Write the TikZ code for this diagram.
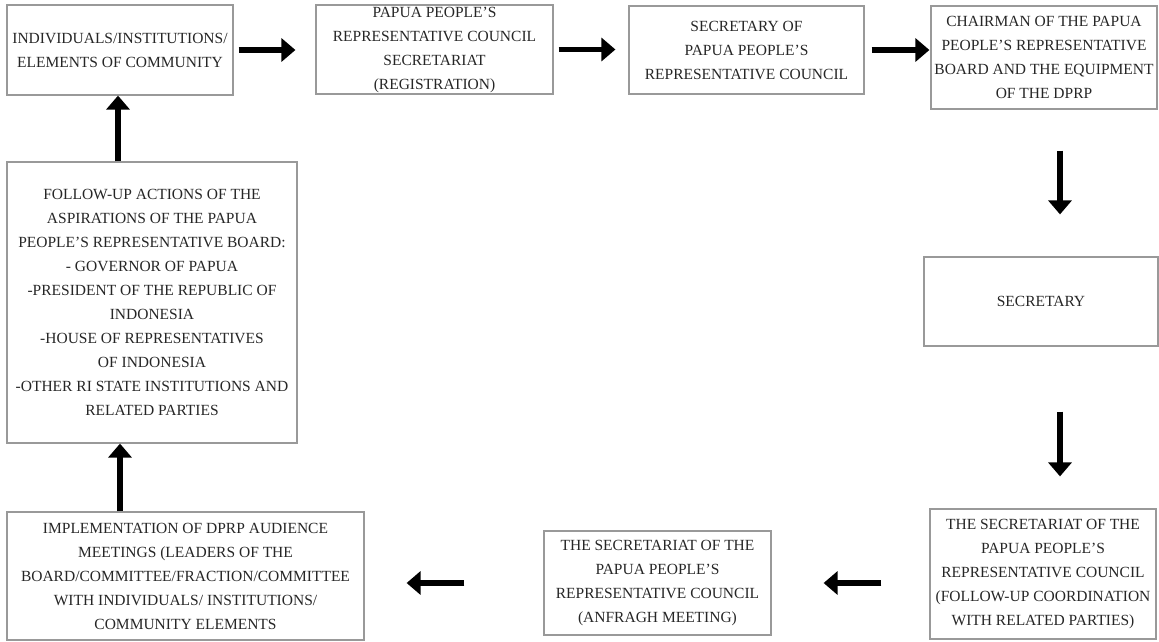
\documentclass[tikz,border=0pt]{standalone}
\usepackage{fontspec}
\setmainfont{Liberation Serif}
\usetikzlibrary{positioning,arrows.meta}
\tikzset{
  stage/.style={
    % The shape:
    rectangle,
    % The size:
    inner sep=0pt,
    % The border:
    draw=black!40,
    line width=1.2pt,
    % Font
    font=\fontsize{15.5}{24}\selectfont,
    align=center,
    text=black!85
  },
  box size/.style 2 args={minimum width=#1pt,minimum height=#2pt}
}

\begin{document}
\begin{tikzpicture}[x=1pt,y=-1pt,
                    tip/.style={-{Triangle[width=23pt,length=14pt]},line width=5.5pt,black}]
  \useasboundingbox (0,0) rectangle (1159,642);

  \node (indiv)    [stage,box size={226}{90}]  at (120,50)     {INDIVIDUALS/INSTITUTIONS/\\ELEMENTS OF COMMUNITY};
  \node (regist)   [stage,box size={237}{89}]  at (434.5,49.5) {PAPUA PEOPLE'S\\REPRESENTATIVE COUNCIL\\SECRETARIAT\\(REGISTRATION)};
  \node (secof)    [stage,box size={235}{88}]  at (746.5,50)   {SECRETARY OF\\PAPUA PEOPLE'S\\REPRESENTATIVE COUNCIL};
  \node (chair)    [stage,box size={226}{103}] at (1044,57.5)  {CHAIRMAN OF THE PAPUA\\PEOPLE'S REPRESENTATIVE\\BOARD AND THE EQUIPMENT\\OF THE DPRP};
  \node (secr)     [stage,box size={234}{89}]  at (1041,301.5) {SECRETARY};
  \node (coord)    [stage,box size={226}{130}] at (1043,574)   {THE SECRETARIAT OF THE\\PAPUA PEOPLE'S\\REPRESENTATIVE COUNCIL\\(FOLLOW-UP COORDINATION\\WITH RELATED PARTIES)};
  \node (anfragh)  [stage,box size={227}{104}] at (657.5,583)  {THE SECRETARIAT OF THE\\PAPUA PEOPLE'S\\REPRESENTATIVE COUNCIL\\(ANFRAGH MEETING)};
  \node (audience) [stage,box size={357}{128}] at (185.5,576)  {IMPLEMENTATION OF DPRP AUDIENCE\\MEETINGS (LEADERS OF THE\\BOARD/COMMITTEE/FRACTION/COMMITTEE\\WITH INDIVIDUALS/ INSTITUTIONS/\\COMMUNITY ELEMENTS};
  \node (followup) [stage,box size={290}{281}] at (152,302.5)  {FOLLOW-UP ACTIONS OF THE\\ASPIRATIONS OF THE PAPUA\\PEOPLE'S REPRESENTATIVE BOARD:\\- GOVERNOR OF PAPUA\\-PRESIDENT OF THE REPUBLIC OF\\INDONESIA\\-HOUSE OF REPRESENTATIVES\\OF INDONESIA\\-OTHER RI STATE INSTITUTIONS AND\\RELATED PARTIES};
  \coordinate (rail) at (1060,0);

  % top row, left to right
  \draw[tip,shorten <=5pt,shorten >=20pt] (indiv.east) -- (indiv.east -| regist.west);
  \draw[tip,shorten <=5pt,shorten >=13pt] (regist.east) -- (regist.east -| secof.west);
  \draw[tip,shorten <=7pt,shorten >=1pt]  (secof.east) -- (secof.east -| chair.west);
  % right column, downwards
  \draw[tip,shorten <=41pt,shorten >=42pt] (chair.south -| rail) -- (secr.north -| rail);
  \draw[tip,shorten <=65pt,shorten >=32pt] (secr.south -| rail) -- (coord.north -| rail);
  % bottom row, right to left
  \draw[tip,shorten <=48pt,shorten >=52pt] (coord.west |- anfragh) -- (anfragh.east);
  \draw[tip,shorten <=79pt,shorten >=42pt] (anfragh.west) -- (anfragh.west -| audience.east);
  % left column, upwards
  \draw[tip] (audience.north -| indiv.south) -- (followup.south -| indiv.south);
  \draw[tip] ([xshift=-2pt]followup.north -| indiv.south) -- ([xshift=-2pt]indiv.south);
\end{tikzpicture}
\end{document}
